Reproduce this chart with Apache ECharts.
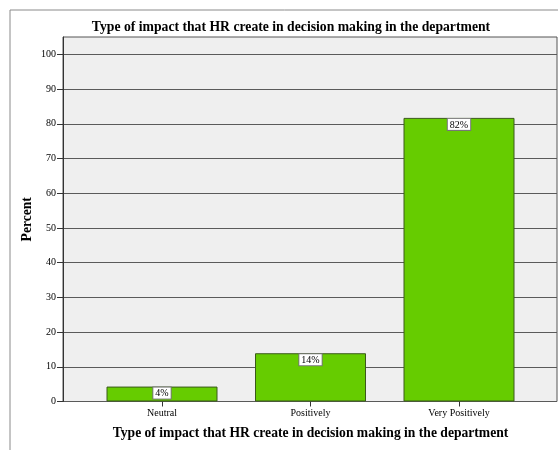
<!DOCTYPE html>
<html><head><meta charset="utf-8">
<script src="https://cdn.jsdelivr.net/npm/echarts@6/dist/echarts.min.js"></script>
<style>html,body{margin:0;padding:0;background:#fff}#c{width:558px;height:450px}</style>
</head><body><div id="c"></div>
<script>
var categories = ['Neutral', 'Positively', 'Very Positively'];
var percentValues = [4.3, 13.9, 81.7];
var yTickValues = [0, 10, 20, 30, 40, 50, 60, 70, 80, 90, 100];
var chartTitle = 'Type of impact that HR create in decision making in the department';
var xAxisTitle = 'Type of impact that HR create in decision making in the department';
var yAxisTitle = 'Percent';

var serif = '"Liberation Serif", "DejaVu Serif", serif';
var chart = echarts.init(document.getElementById('c'), null, {renderer: 'canvas'});
chart.setOption({
  animation: false,
  backgroundColor: '#fff',
  graphic: [{
    type: 'rect', left: 7.5, top: 7.5, silent: true, z: -10,
    shape: {width: 700, height: 600},
    style: {fill: 'none', stroke: '#8a8a8a', lineWidth: 1}
  }],
  title: {
    text: chartTitle, left: 286, top: 15, textAlign: 'center',
    textStyle: {fontFamily: serif, fontWeight: 'bold', fontSize: 13.7, color: '#000'}
  },
  grid: [
    {left: 63, top: 37, width: 494, height: 364.5, show: true, backgroundColor: '#efefef', borderColor: '#555', borderWidth: 1},
    {left: 87.75, top: 37, width: 445.5, height: 364.5}
  ],
  xAxis: [
    {gridIndex: 0, type: 'value', show: false, min: 0, max: 1},
    {gridIndex: 1, type: 'category', data: categories,
     name: xAxisTitle, nameLocation: 'middle', nameGap: 25, nameMoveOverlap: false,
     nameTextStyle: {fontFamily: serif, fontWeight: 'bold', fontSize: 13.6, color: '#000'},
     axisLine: {show: false},
     axisTick: {show: true, alignWithLabel: true, length: 5, lineStyle: {color: '#333'}},
     axisLabel: {fontFamily: serif, fontSize: 10, color: '#000', margin: 7}}
  ],
  yAxis: [
    {gridIndex: 0, type: 'value', min: 0, max: 105, interval: 10,
     name: yAxisTitle, nameLocation: 'middle', nameGap: 29, nameRotate: 90, nameMoveOverlap: false,
     nameTextStyle: {fontFamily: serif, fontWeight: 'bold', fontSize: 13.6, color: '#000'},
     axisLine: {show: true, lineStyle: {color: '#333'}},
     axisTick: {show: true, length: 6, customValues: yTickValues, lineStyle: {color: '#333'}},
     axisLabel: {fontFamily: serif, fontSize: 10, color: '#000', margin: 7, customValues: yTickValues},
     splitLine: {show: true, lineStyle: {color: '#5a5a5a', width: 1}}},
    {gridIndex: 1, type: 'value', min: 0, max: 105, show: false, splitLine: {show: false}}
  ],
  series: [{
    type: 'bar', xAxisIndex: 1, yAxisIndex: 1,
    data: percentValues, barWidth: 111,
    itemStyle: {color: '#66cc00', borderColor: '#3a5a1a', borderWidth: 1},
    label: {
      show: true, position: 'insideTop', distance: 1,
      formatter: function (p) { return Math.round(p.value) + '%'; },
      fontFamily: serif, fontSize: 10, color: '#000',
      backgroundColor: '#fff', borderColor: '#777', borderWidth: 1, padding: [1, 2, 0, 2]
    }
  }]
});
</script></body></html>
